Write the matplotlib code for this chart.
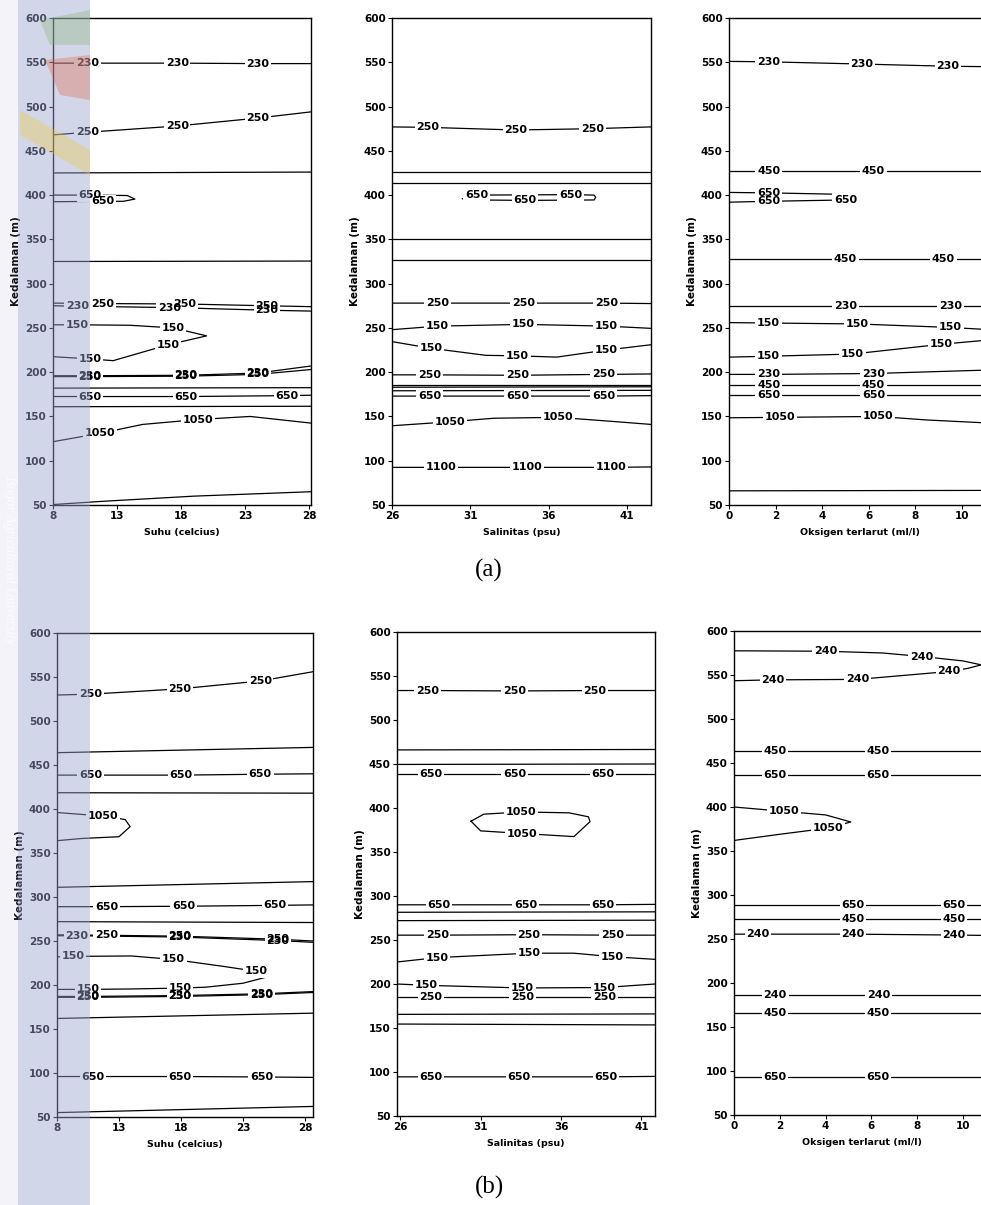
import matplotlib
matplotlib.use("Agg")
import matplotlib.pyplot as plt
from matplotlib.patches import Rectangle, Polygon

W, H = 981, 1205
depth_ticks = list(range(50, 601, 50))

# ---------------- (a) Suhu ----------------
a_suhu_xlim = (8, 28.16)
a_suhu_ticks = [8, 13, 18, 23, 28]
a_suhu_level = [230, 250, None, 650, None, 250, 230, 150, 230, 250, None, 650, None, 1050, None]
a_suhu_x = [[8, 10.7, 17.7, 24.0, 28.16], [8, 10.7, 17.7, 24.0, 28.16], [8, 28.16],
            [8, 10.9, 13.8, 14.4, 13.5, 11.9, 8], [8, 28.16],
            [8, 11.9, 18.3, 24.7, 28.16], [8, 9.9, 17.1, 24.7, 28.16],
            [8, 9.9, 14, 17.4, 20.0, 17.0, 12.7, 10.9, 8],
            [8, 10.9, 18.4, 24.0, 28.16], [8, 10.9, 18.4, 24.0, 28.16], [8, 28.16],
            [8, 10.9, 18.4, 26.3, 28.16], [8, 28.16],
            [8, 11.7, 15.0, 19.3, 23.4, 28.16], [8, 11.7, 19, 28.16]]
a_suhu_d = [[549, 549, 549, 548.5, 548.5], [468, 471, 478, 487, 494], [425, 426],
            [400, 400, 399.5, 395.5, 393, 393, 392.5], [325, 325.5],
            [278, 277.5, 277, 275, 274], [275, 274.5, 273, 270, 269],
            [253.5, 253.5, 253, 250, 241, 231, 213, 215, 217.5],
            [196, 196, 196.5, 199, 207], [195, 195, 195.5, 197.5, 203], [182, 182.5],
            [172.5, 172.5, 172.5, 173.5, 174], [161, 161.5],
            [121.5, 131, 141, 146.5, 150, 142.5], [50.5, 54, 60, 65]]
a_suhu_lab = [[1, 2, 3], [1, 2, 3], [], [1, 5], [], [1, 2, 3], [1, 2, 3], [1, 3, 5, 7],
              [1, 2, 3], [1, 2, 3], [], [1, 2, 3], [], [1, 3], []]

# ---------------- (a) Salinitas ----------------
a_sal_xlim = (26, 42.53)
a_sal_ticks = [26, 31, 36, 41]
a_sal_level = [250, None, None, 650, None, None, 250, 150, 150, 250, None, None, None, 650, 1050, 1100]
a_sal_x = [[26, 28.3, 33.9, 38.8, 42.53], [26, 42.53], [26, 42.53],
           [30.5, 31.4, 37.4, 38.9, 39.0, 38.9, 34.5, 31.5, 30.5], [26, 42.53], [26, 42.53],
           [26, 28.9, 34.4, 39.7, 42.53], [26, 28.9, 34.4, 39.7, 42.53],
           [26, 28.5, 32, 34.0, 36.5, 39.7, 42.53], [26, 28.4, 34.0, 39.5, 42.53],
           [26, 42.53], [26, 42.53], [26, 42.53], [26, 28.4, 34.0, 39.5, 42.53],
           [26, 29.7, 32.5, 36.6, 40, 42.53], [26, 29.1, 34.6, 40.0, 42.53]]
a_sal_d = [[477, 476.5, 473.5, 475, 477], [426.5, 426.5], [414, 414],
           [396, 400, 400.5, 400, 397.5, 394.5, 394, 394.5, 396], [350.5, 350.5], [326.5, 326.5],
           [278, 278, 278, 278, 277.5], [248, 252, 254, 252, 249.5],
           [234.5, 227, 219, 218.5, 217, 225, 231], [197, 197, 196.5, 197.5, 198],
           [186, 186], [183, 183.5], [179, 179.5], [173, 173, 173, 173, 173.5],
           [139.5, 144, 148, 149, 144.5, 141], [92.5, 92.5, 92.5, 92.5, 93]]
a_sal_lab = [[1, 2, 3], [], [], [1, 2, 6], [], [], [1, 2, 3], [1, 2, 3], [1, 3, 5], [1, 2, 3],
             [], [], [], [1, 2, 3], [1, 3], [1, 2, 3]]

# ---------------- (a) Oksigen ----------------
a_oks_xlim = (0, 11.2)
a_oks_ticks = [0, 2, 4, 6, 8, 10]
a_oks_level = [230, 450, 650, 450, 230, 150, 150, 230, 450, 650, 1050, None]
a_oks_x = [[0, 1.7, 5.7, 9.4, 11.2], [0, 1.7, 6.2, 11.2],
           [0, 1.7, 4.6, 5.5, 5.0, 1.7, 0], [0, 5.0, 9.2, 11.2], [0, 5.0, 9.5, 11.2],
           [0, 1.7, 5.5, 9.5, 11.2], [0, 1.7, 5.3, 9.1, 11.2], [0, 1.7, 6.2, 11.2],
           [0, 1.7, 6.2, 11.2], [0, 1.7, 6.2, 11.2], [0, 2.2, 6.4, 8.5, 11.2], [0, 11.2]]
a_oks_d = [[551, 550.5, 548, 545.5, 545], [427.5, 427.5, 427.5, 427.5],
           [403, 402.5, 401, 396, 394.5, 393, 392], [327.5, 327.5, 327.5, 327.5],
           [275, 275, 275, 275], [256, 255.5, 254.5, 250.5, 248], [217, 218, 220.5, 231.5, 236.5],
           [197.5, 197.5, 198.5, 202.5], [185.5, 185.5, 185.5, 185.5], [174.5, 174.5, 174.5, 174.5],
           [148.5, 149, 150, 146, 142.5], [66, 66.5]]
a_oks_lab = [[1, 2, 3], [1, 2], [1, 4, 5], [1, 2], [1, 2], [1, 2, 3], [1, 2, 3], [1, 2],
             [1, 2], [1, 2], [1, 2], []]

# ---------------- (b) Suhu ----------------
b_suhu_xlim = (8, 28.65)
b_suhu_ticks = [8, 13, 18, 23, 28]
b_suhu_level = [250, None, 650, None, 1050, None, 650, None, 230, 250, 150, 230, 250, None, 650, None]
b_suhu_x = [[8, 10.7, 17.9, 24.4, 28.65], [8, 28.65], [8, 10.7, 18.0, 24.4, 28.65], [8, 28.65],
            [8, 11.7, 13.5, 13.9, 13.0, 10.0, 8], [8, 28.65], [8, 12.0, 18.2, 25.6, 28.65],
            [8, 28.65], [8, 9.6, 17.9, 25.8, 28.65], [8, 12.0, 17.9, 25.8, 28.65],
            [8, 9.3, 14, 17.4, 21.5, 24.1, 24.9, 23, 20, 17.9, 14, 10.5, 8],
            [8, 10.5, 17.9, 24.5, 28.65], [8, 10.5, 17.9, 24.5, 28.65], [8, 28.65],
            [8, 10.9, 17.9, 24.5, 28.65], [8, 28.65]]
b_suhu_d = [[529.5, 530.5, 536.5, 545.5, 556], [464, 470], [438.5, 438.5, 438.5, 439.5, 440],
            [418.5, 418], [396, 392, 388, 380, 368.5, 366.5, 364], [311, 317.5],
            [289, 289, 289.5, 290.5, 291], [272, 271], [256, 256, 254.5, 250.5, 248.5],
            [257, 256.5, 255.5, 252, 250],
            [232, 232.5, 233, 229, 221, 215.5, 209, 202, 197.5, 196.5, 195.5, 195, 195],
            [187, 187, 188, 190, 192.5], [186, 186, 187, 189, 191.5], [162, 168],
            [96, 96, 96, 95.5, 95], [55, 62]]
b_suhu_lab = [[1, 2, 3], [], [1, 2, 3], [], [1], [], [1, 2, 3], [], [1, 2, 3], [1, 2, 3],
              [1, 3, 5, 9, 11], [1, 2, 3], [1, 2, 3], [], [1, 2, 3], []]

# ---------------- (b) Salinitas ----------------
b_sal_xlim = (25.8, 41.84)
b_sal_ticks = [26, 31, 36, 41]
b_sal_level = [250, None, None, 650, 1050, 650, None, None, 250, 150, 150, 250, None, None, 650]
b_sal_x = [[25.8, 27.7, 33.1, 38.1, 41.84], [25.8, 41.84], [25.8, 41.84],
           [25.8, 27.9, 33.1, 38.6, 41.84],
           [30.4, 31.2, 33.5, 36.5, 37.7, 37.8, 36.8, 33.6, 31.0, 30.4],
           [25.8, 28.4, 33.8, 38.6, 41.84], [25.8, 41.84], [25.8, 41.84],
           [25.8, 28.3, 34.0, 39.2, 41.84], [25.8, 28.3, 34.0, 36.8, 39.2, 41.84],
           [25.8, 27.6, 33.6, 38.7, 41.84], [25.8, 27.9, 33.6, 38.7, 41.84],
           [25.8, 41.84], [25.8, 41.84], [25.8, 27.9, 33.4, 38.8, 41.84]]
b_sal_d = [[533.5, 533.5, 533, 533.5, 533.5], [466, 466.5], [449.5, 450],
           [438.5, 438.5, 438.5, 438.5, 438.5],
           [385, 393, 395.5, 394.5, 390, 384.5, 367.5, 371, 374, 385],
           [290, 290, 290, 290, 290.5], [281.5, 282], [272, 272.5],
           [255.5, 255.5, 256, 255.5, 255.5], [225, 230, 235, 235, 231, 228],
           [200, 198.5, 195.5, 196, 200], [185.5, 185.5, 185.5, 185.5, 185.5],
           [165.5, 166], [154.5, 153.5], [94.5, 94.5, 94.5, 94.5, 95]]
b_sal_lab = [[1, 2, 3], [], [], [1, 2, 3], [2, 7], [1, 2, 3], [], [], [1, 2, 3], [1, 2, 4],
             [1, 2, 3], [1, 2, 3], [], [], [1, 2, 3]]

# ---------------- (b) Oksigen ----------------
b_oks_xlim = (0, 11.18)
b_oks_ticks = [0, 2, 4, 6, 8, 10]
b_oks_level = [240, 450, 650, 1050, 650, 450, 240, 240, 450, 650]
b_oks_x = [[0, 4.0, 6.5, 8.2, 10.0, 10.8, 10.2, 9.4, 5.4, 1.7, 0], [0, 1.8, 6.3, 11.18],
           [0, 1.8, 6.3, 11.18], [0, 2.2, 4.0, 5.1, 4.1, 2.0, 0], [0, 5.2, 9.6, 11.18],
           [0, 5.2, 9.6, 11.18], [0, 1.05, 5.2, 9.6, 11.18], [0, 1.8, 6.3, 11.18],
           [0, 1.8, 6.3, 11.18], [0, 1.8, 6.3, 11.18]]
b_oks_d = [[577.5, 577, 575, 571, 566, 561.5, 557.5, 554, 545, 544.5, 543.5],
           [463.5, 463.5, 463.5, 463.5], [436.5, 436.5, 436.5, 436.5],
           [400, 395, 391, 383, 376, 369, 362], [288.5, 288.5, 288.5, 288.5],
           [272.5, 272.5, 272.5, 272.5], [255.5, 255.5, 255.5, 254.5, 254],
           [186.5, 186.5, 186.5, 186.5], [165.5, 165.5, 165.5, 165.5], [93.5, 93.5, 93.5, 93.5]]
b_oks_lab = [[1, 3, 7, 8, 9], [1, 2], [1, 2], [1, 4], [1, 2], [1, 2], [1, 2, 3], [1, 2],
             [1, 2], [1, 2]]

xlabels = ["Suhu (celcius)", "Salinitas (psu)", "Oksigen terlarut (ml/l)"]

fig = plt.figure(figsize=(W / 100, H / 100), dpi=100)


def add_ax(l, r, t, b):
    return fig.add_axes([l / W, 1 - b / H, (r - l) / W, (b - t) / H])


def panel(ax, xlim, xticks, xlabel, levels, xs, ds, labs):
    for lev, x, d, lab in zip(levels, xs, ds, labs):
        ax.plot(x, d, color="black", lw=0.9, zorder=2)
        for i in lab:
            # white box breaks the line, text drawn above all boxes
            ax.text(x[i], d[i], str(lev), ha="center", va="center", color="none",
                    fontsize=8, fontweight="bold",
                    bbox=dict(fc="white", ec="none", pad=1.2), zorder=3)
            ax.text(x[i], d[i], str(lev), ha="center", va="center", color="black",
                    fontsize=8, fontweight="bold", zorder=4)
    ax.set_xlim(*xlim)
    ax.set_ylim(50, 600)
    ax.set_xticks(xticks)
    ax.set_yticks(depth_ticks)
    ax.tick_params(length=3, width=0.8, pad=1.5, labelsize=7.5)
    for lab in ax.get_xticklabels() + ax.get_yticklabels():
        lab.set_fontweight("bold")
    for s in ax.spines.values():
        s.set_linewidth(1.0)
    ax.set_xlabel(xlabel, fontsize=6.8, fontweight="bold", labelpad=5)
    ax.set_ylabel("Kedalaman (m)", fontsize=7.5, fontweight="bold", labelpad=3)


ax = add_ax(53, 311, 18, 505)
panel(ax, a_suhu_xlim, a_suhu_ticks, xlabels[0], a_suhu_level, a_suhu_x, a_suhu_d, a_suhu_lab)
ax = add_ax(392, 651, 18, 505)
panel(ax, a_sal_xlim, a_sal_ticks, xlabels[1], a_sal_level, a_sal_x, a_sal_d, a_sal_lab)
ax = add_ax(729, 990, 18, 505)
panel(ax, a_oks_xlim, a_oks_ticks, xlabels[2], a_oks_level, a_oks_x, a_oks_d, a_oks_lab)
ax = add_ax(57, 313, 633, 1117)
panel(ax, b_suhu_xlim, b_suhu_ticks, xlabels[0], b_suhu_level, b_suhu_x, b_suhu_d, b_suhu_lab)
ax = add_ax(397, 655, 632, 1116)
panel(ax, b_sal_xlim, b_sal_ticks, xlabels[1], b_sal_level, b_sal_x, b_sal_d, b_sal_lab)
ax = add_ax(734, 990, 631, 1115)
panel(ax, b_oks_xlim, b_oks_ticks, xlabels[2], b_oks_level, b_oks_x, b_oks_d, b_oks_lab)

fig.text(489 / W, 1 - 570 / H, "(a)", ha="center", va="center", fontsize=18,
         family="Liberation Serif")
fig.text(489 / W, 1 - 1187 / H, "(b)", ha="center", va="center", fontsize=18,
         family="Liberation Serif")

# watermark strip on the left
tf = fig.transFigure
fig.add_artist(Rectangle((0, 0), 18 / W, 1, transform=tf, facecolor=(0.62, 0.64, 0.82),
                         alpha=0.12, edgecolor="none", zorder=10))
fig.add_artist(Rectangle((18 / W, 0), 72 / W, 1, transform=tf, facecolor=(0.615, 0.643, 0.817),
                         alpha=0.45, edgecolor="none", zorder=10))
logo = [((40, 20), (90, 10), (90, 45), (50, 45), "#7fb069"),
        ((45, 60), (90, 55), (90, 100), (60, 95), "#e4572e"),
        ((20, 110), (90, 150), (90, 175), (20, 135), "#f3c623")]
for p1, p2, p3, p4, c in logo:
    pts = [(px / W, 1 - py / H) for px, py in (p1, p2, p3, p4)]
    fig.add_artist(Polygon(pts, closed=True, transform=tf, facecolor=c, alpha=0.3,
                           edgecolor="none", zorder=11))
fig.text(9 / W, 1 - 560 / H, "Bogor Agricultural University", rotation=-90, ha="center",
         va="center", color="white", alpha=0.8, fontsize=10, style="italic",
         family="Liberation Serif", zorder=12)

fig.savefig("out.png", dpi=100)
